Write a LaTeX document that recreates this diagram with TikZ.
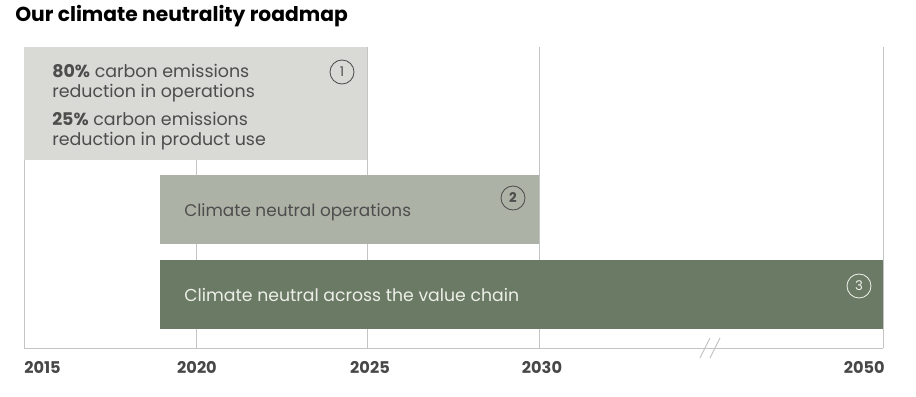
\documentclass[tikz,border=0pt]{standalone}
\usepackage{fontspec}
\setmainfont{Poppins}
\definecolor{gridgray}{HTML}{C4C4C4}
\definecolor{phaseone}{HTML}{D9DAD5}
\definecolor{phasetwo}{HTML}{ADB2A6}
\definecolor{phasethree}{HTML}{6B7A64}
\definecolor{textgray}{HTML}{4D4D4D}
\definecolor{yeargray}{HTML}{474747}
\definecolor{lighttext}{HTML}{ECEFE8}

\begin{document}
\begin{tikzpicture}[
  gridline/.style={draw=gridgray, line width=0.7pt},
  phasebox/.style={rectangle, inner sep=0pt},
  boxtext/.style={inner sep=0pt, text=textgray, font=\fontsize{12.4}{14.2}\selectfont},
  stepnum/.style={draw, circle, line width=0.6pt, minimum size=0.6cm, inner sep=0pt, font=\fontsize{9.5}{9.5}\selectfont},
  yearlabel/.style={inner sep=0pt, text=yeargray, font=\bfseries\fontsize{11.5}{12}\selectfont}
]
\useasboundingbox (0,0) rectangle (22.9,9.9);

% figure title
\node[anchor=base west, inner sep=0pt, font=\bfseries\fontsize{14.4}{16}\selectfont] at (0.375, 9.35) (title) {Our climate neutrality roadmap};

% year grid, top and axis ends
\coordinate (top2015) at ( 0.6,   8.725);
\coordinate (top2020) at ( 4.9,   8.725);
\coordinate (top2025) at ( 9.175, 8.725);
\coordinate (top2030) at (13.475, 8.725);
\coordinate (top2050) at (22.075, 8.725);
\coordinate (ax2015) at ( 0.6,   1.2);
\coordinate (ax2020) at ( 4.9,   1.2);
\coordinate (ax2025) at ( 9.175, 1.2);
\coordinate (ax2030) at (13.475, 1.2);
\coordinate (ax2050) at (22.075, 1.2);
\draw[gridline] (top2015) -- (ax2015);
\draw[gridline] (top2020) -- (ax2020);
\draw[gridline] (top2025) -- (ax2025);
\draw[gridline] (top2030) -- (ax2030);
\draw[gridline] (top2050) -- (ax2050);
\draw[gridline] (ax2015) -- (ax2050);

% axis break
\coordinate (brka) at (17.5,  0.95);
\coordinate (brkb) at (17.75, 1.45);
\coordinate (brkc) at (17.75, 0.95);
\coordinate (brkd) at (18.0,  1.45);
\draw[gridline] (brka) -- (brkb);
\draw[gridline] (brkc) -- (brkd);

% years
\node[yearlabel, anchor=north west] at ( 0.6,   0.875) (y2015) {2015};
\node[yearlabel, anchor=north]      at ( 4.925, 0.875) (y2020) {2020};
\node[yearlabel, anchor=north]      at ( 9.25,  0.875) (y2025) {2025};
\node[yearlabel, anchor=north]      at (13.55,  0.875) (y2030) {2030};
\node[yearlabel, anchor=north east] at (22.125, 0.875) (y2050) {2050};

% phase 1
\node[phasebox, fill=phaseone, minimum width=8.575cm, minimum height=2.825cm] at (4.8875, 7.3125) (phase1) {};
\node[boxtext, anchor=north west, align=left] at (1.3, 8.3) (goalops) {\textbf{80\%} carbon emissions\\reduction in operations};
\node[boxtext, anchor=north west, align=left] at (1.3, 7.1) (goaluse) {\textbf{25\%} carbon emissions\\reduction in product use};
\node[stepnum, draw=textgray, text=textgray] at (8.55, 8.1) (num1) {1};

% phase 2
\node[phasebox, fill=phasetwo, minimum width=9.475cm, minimum height=1.725cm] at (8.7375, 4.6625) (phase2) {};
\node[boxtext, anchor=west, font=\fontsize{12.0}{14.2}\selectfont] at (4.6, 4.6) (neutralops) {Climate neutral operations};
\node[stepnum, draw=textgray, text=textgray, font=\bfseries\fontsize{9.5}{9.5}\selectfont] at (12.825, 4.95) (num2) {2};

% phase 3
\node[phasebox, fill=phasethree, minimum width=18.075cm, minimum height=1.725cm] at (13.0375, 2.5375) (phase3) {};
\node[boxtext, anchor=west, text=lighttext, font=\fontsize{12.3}{14.2}\selectfont] at (4.6, 2.525) (neutralchain) {Climate neutral across the value chain};
\node[stepnum, draw=lighttext, text=lighttext] at (21.475, 2.75) (num3) {3};

\end{tikzpicture}
\end{document}
